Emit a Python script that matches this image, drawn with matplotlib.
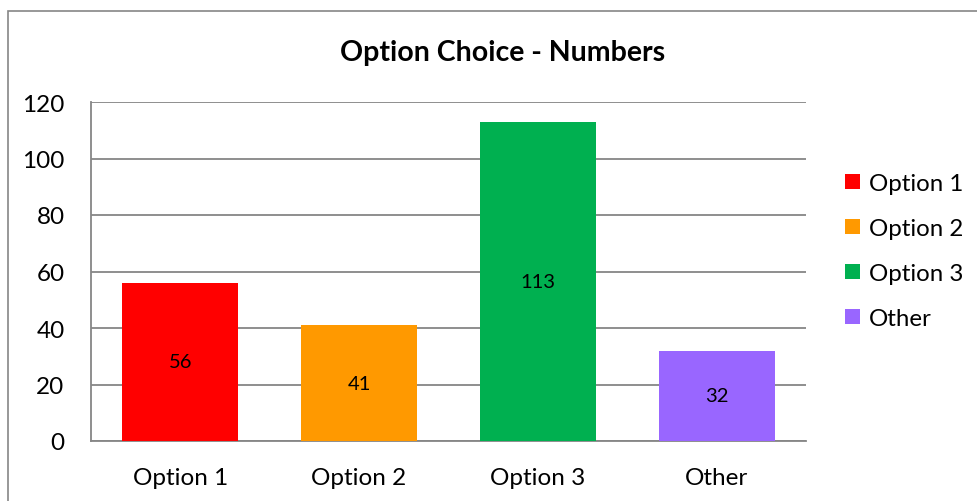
import numpy as np
from matplotlib import pyplot as plt
from matplotlib.patches import Rectangle, Patch

categories = ["Option 1", "Option 2", "Option 3", "Other"]
values = [56, 41, 113, 32]
colors = ["#FF0000", "#FF9900", "#00B050", "#9966FF"]
yticks = [0, 20, 40, 60, 80, 100, 120]

plt.rcParams['font.family'] = ['Lato', 'DejaVu Sans']

W, H = 978, 502
fig = plt.figure(figsize=(W/100, H/100), dpi=100)

# outer chart border (right/bottom cut off in the reference)
fig.patches.append(Rectangle((8/W, -0.1), 1.2, (H - 11.5)/H + 0.1, transform=fig.transFigure,
                             fill=False, edgecolor="#868686", linewidth=1.2))

ax = fig.add_axes([91/W, 1 - 442/H, (806-91)/W, (442-103)/H])
x = np.arange(len(categories))
bars = ax.bar(x, values, width=0.65, color=colors, zorder=3)
for b, v in zip(bars, values):
    ax.text(b.get_x() + b.get_width()/2, v/2, str(v), ha="center", va="center", fontsize=14.5, zorder=4)

ax.set_xlim(-0.5, len(categories) - 0.5)
ax.set_ylim(0, 120)
ax.set_yticks(yticks)
ax.set_yticklabels([str(t) for t in yticks], fontsize=17.5)
ax.set_xticks(x)
ax.set_xticklabels(categories, fontsize=17.5)
ax.tick_params(length=0)
ax.tick_params(axis="x", pad=19)
ax.tick_params(axis="y", pad=19)
ax.grid(axis="y", color="#868686", linewidth=1.3, zorder=0)
for s in ["top", "right"]:
    ax.spines[s].set_visible(False)
for s in ["left", "bottom"]:
    ax.spines[s].set_color("#868686")
    ax.spines[s].set_linewidth(1.3)

fig.text(503/W, 1 - 53/H, "Option Choice - Numbers", ha="center", va="center",
         fontsize=20.5, fontweight="bold")

handles = [Patch(facecolor=c, label=l) for c, l in zip(colors, categories)]
fig.legend(handles=handles, loc="center left", bbox_to_anchor=(823/W, 1 - 252/H),
           frameon=False, fontsize=17.3, handlelength=0.62, handleheight=0.62,
           handletextpad=0.4, labelspacing=1.0)

fig.savefig("out.png", dpi=100)
